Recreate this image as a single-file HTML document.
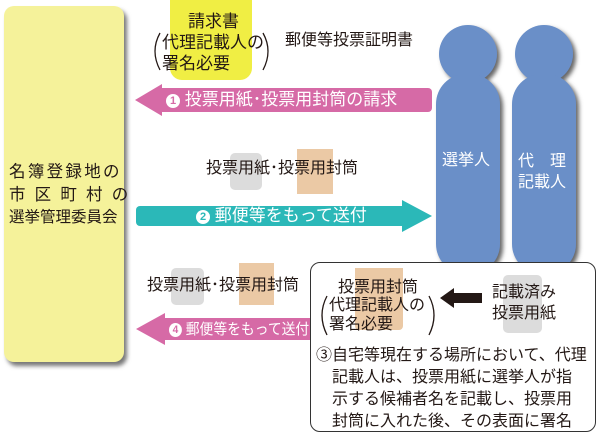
<!DOCTYPE html>
<html><head><meta charset="utf-8"><style>
body{margin:0;width:600px;height:437px;position:relative;background:#fff;overflow:hidden;font-family:"Liberation Sans","Noto Sans CJK JP",sans-serif;color:#231815}
.a{position:absolute}
.t{position:absolute;white-space:nowrap;font-size:16px;line-height:19px}
.c{display:inline-block;width:14px;height:14px;border-radius:7px;background:#fff;font-size:11px;line-height:14px;text-align:center;vertical-align:1px;font-weight:bold}
</style></head><body>
<div class="a" style="left:4px;top:6px;width:120px;height:356px;background:#f5f29a;border-radius:10px;box-shadow:3px 4px 4px #777"></div>
<div class="t" style="left:9px;top:161px;font-size:16.5px;line-height:22.5px;letter-spacing:2.3px">名簿登録地の<br>市 区 町 村 の<br><span style="letter-spacing:0;font-size:15.5px">選挙管理委員会</span></div>

<div class="a" style="left:170px;top:0;width:82px;height:80px;background:#f0ee44;border-radius:0 0 12px 12px"></div>
<div class="t" style="left:188px;top:11px;font-size:17px;line-height:21px">請求書</div>
<div class="t" style="left:162px;top:32px;font-size:17px;line-height:21px">代理記載人の<br>署名必要</div>
<div class="t" style="left:285px;top:31px">郵便等投票証明書</div>

<svg class="a" style="left:0;top:0" width="600" height="437">
<defs><filter id="s"><feDropShadow dx="3" dy="3" stdDeviation="2" flood-color="#666"/></filter></defs>
<g fill="#6a8fc8" filter="url(#s)">
<circle cx="468" cy="54" r="29"/><rect x="436" y="74" width="64" height="200" rx="30"/>
<circle cx="544" cy="54" r="29"/><rect x="512" y="74" width="64" height="200" rx="30"/>
</g>
<g fill="none" stroke="#231815" stroke-width="1.3">
<path d="M160 33 Q150 51 160 70"/><path d="M263 33 Q273 51 263 70"/>
</g>
<rect x="155" y="88" width="277" height="24" rx="4" fill="#d66aa6"/>
<path d="M135 100 L162 84 L162 116 Z" fill="#d66aa6"/>
<rect x="136" y="206" width="270" height="20" rx="4" fill="#2bb8b8"/>
<path d="M432 216 L402 200 L402 232 Z" fill="#2bb8b8"/>
<rect x="160" y="318" width="150" height="22" fill="#d66aa6"/>
<path d="M136 329 L165 313 L165 345 Z" fill="#d66aa6"/>
<rect x="230" y="153" width="32" height="37" rx="5" fill="#dcdcdc"/>
<rect x="297" y="149" width="36" height="45" fill="#ebc9a5"/>
<rect x="171" y="268" width="33" height="37" rx="5" fill="#dcdcdc"/>
<rect x="239" y="263" width="35" height="42" fill="#ebc9a5"/>
</svg>
<div class="t" style="left:166px;top:90px;color:#fff;font-size:17px;line-height:20px"><span class="c" style="color:#d66aa6">1</span> 投票用紙･投票用封筒の請求</div>
<div class="t" style="left:196px;top:206px;color:#fff;font-size:17px;line-height:20px"><span class="c" style="color:#2bb8b8">2</span> 郵便等をもって送付</div>
<div class="t" style="left:169px;top:320px;color:#fff;font-size:15px;transform:scaleX(0.92);transform-origin:0 0"><span class="c" style="color:#d66aa6">4</span> 郵便等をもって送付</div>
<div class="t" style="left:206px;top:159px">投票用紙･投票用封筒</div>
<div class="t" style="left:147px;top:276px">投票用紙･投票用封筒</div>
<div class="t" style="left:442px;top:151px;color:#fff">選挙人</div>
<div class="t" style="left:518px;top:151px;color:#fff;line-height:21px">代　理<br>記載人</div>

<div class="a" style="left:310px;top:262px;width:284px;height:168px;border:1.3px solid #333;border-radius:10px;background:#fff"></div>
<div class="a" style="left:355px;top:268px;width:48px;height:62px;background:#ebc9a5;border-radius:0 0 4px 4px"></div>
<div class="a" style="left:503px;top:275px;width:39px;height:58px;background:#dcdcdc;border-radius:5px"></div>
<svg class="a" style="left:0;top:0" width="600" height="437">
<g fill="none" stroke="#231815" stroke-width="1.3">
<path d="M327 296 Q317 315 327 335"/><path d="M429 296 Q439 315 429 335"/>
</g>
<path d="M440 298 L454 288 L454 293 L482 293 L482 303 L454 303 L454 308 Z" fill="#231815"/>
</svg>
<div class="t" style="left:338px;top:278px;line-height:19px">投票用封筒</div>
<div class="t" style="left:329px;top:296px;line-height:19px">代理記載人の<br>署名必要</div>
<div class="t" style="left:492px;top:282px;line-height:21px">記載済み<br>投票用紙</div>
<div class="t" style="left:316px;top:345px;line-height:22px;font-size:16px">③自宅等現在する場所において、代理<br>　記載人は、投票用紙に選挙人が指<br>　示する候補者名を記載し、投票用<br>　封筒に入れた後、その表面に署名</div>
</body></html>
